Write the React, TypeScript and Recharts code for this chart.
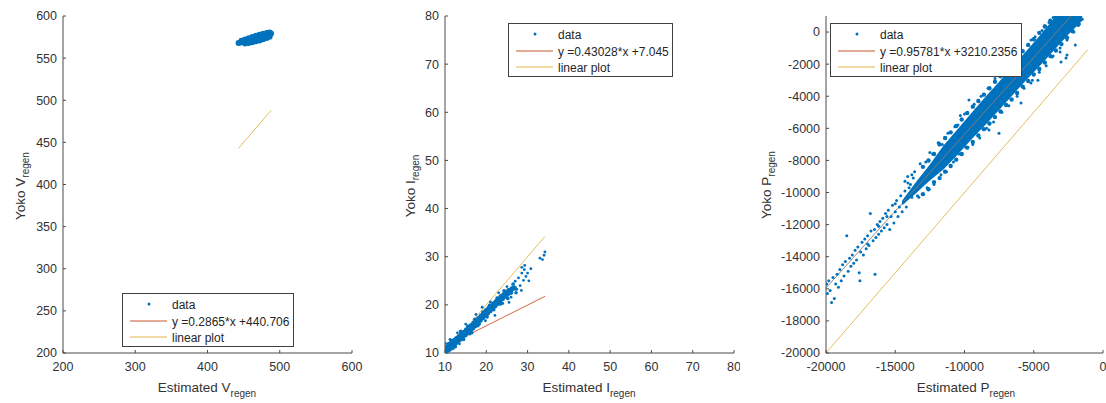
import React from 'react';
import { ComposedChart, Scatter, Line, Area, XAxis, YAxis } from 'recharts';

const FONT = 'Arial, "Liberation Sans", Helvetica, sans-serif';
const BLUE = '#0072BD';
const FIT = '#C9572C';
const LIN = '#E3B54A';
const INK = '#333';
const AXIS = '#4a4a4a';

// ---- V_regen panel ----
const vXTicks = [200, 300, 400, 500, 600];
const vYTicks = [200, 250, 300, 350, 400, 450, 500, 550, 600];
const vCloud: [number, number][] = [
  [443, 568.0], [446, 568.6], [449, 569.5], [452, 570.3], [455, 571.0], [458, 571.8],
  [461, 572.6], [464, 573.4], [467, 574.2], [470, 575.0], [473, 575.8], [476, 576.6],
  [479, 577.3], [482, 578.0], [485, 578.6], [488, 579.2],
  [447, 570.5], [452, 572.0], [457, 573.6], [462, 575.0], [467, 576.6], [472, 577.8],
  [477, 578.8], [482, 579.8], [486, 580.4],
  [452, 567.4], [457, 568.1], [462, 568.9], [467, 569.9], [472, 571.0], [477, 572.4],
  [482, 574.0], [486, 575.5],
];
const vFit: [number, number][] = [[442, 567.3], [490, 581.1]];
const vLinear: [number, number][] = [[443, 443], [488, 488]];

// ---- I_regen panel ----
const iTicks = [10, 20, 30, 40, 50, 60, 70, 80];
const iCore: [number, number][] = [
  [10.2, 10.4], [10.5, 11.2], [10.8, 10.6], [11.0, 11.8], [11.3, 11.0], [11.6, 12.0],
  [11.9, 11.5], [12.2, 12.6], [12.5, 12.0], [12.8, 13.0], [13.1, 12.5], [13.4, 13.4],
  [13.7, 12.9], [14.0, 13.9], [14.3, 13.4], [14.6, 14.3], [14.9, 13.8], [15.2, 14.8],
  [15.5, 14.3], [15.8, 15.2], [16.1, 14.7], [16.4, 15.7], [16.7, 15.2], [17.0, 16.2],
  [17.3, 15.7], [17.6, 16.7], [17.9, 16.2], [18.2, 17.2], [18.5, 16.8], [18.8, 17.7],
  [19.1, 17.3], [19.4, 18.3], [19.7, 17.8], [20.0, 18.8], [20.3, 18.3], [20.6, 19.3],
  [20.9, 18.8], [21.2, 19.8], [21.5, 19.3], [21.8, 20.2], [22.1, 19.8], [22.4, 20.7],
  [22.7, 20.3], [23.0, 21.2], [23.3, 20.8], [23.6, 21.7], [23.9, 21.3], [24.2, 22.1],
  [24.5, 21.8], [24.8, 22.6], [25.1, 22.2], [25.5, 23.0], [25.9, 22.6], [26.3, 23.4],
  [26.8, 23.5],
];
const iFringe: [number, number][] = [
  [11.5, 12.6], [12.5, 11.3], [13.8, 14.5], [14.5, 12.8], [15.5, 15.6], [16.5, 14.2],
  [17.2, 17.0], [18.3, 16.0], [19.2, 18.5], [20.2, 17.5], [20.8, 19.9], [21.8, 19.0],
  [22.6, 21.4], [23.5, 20.2], [24.3, 22.9], [25.2, 21.3], [26.5, 24.3], [27.2, 22.5],
];
const iSpread: [number, number][] = [
  [10.1, 12.0], [10.4, 9.9], [11.2, 12.8], [12.0, 10.9], [13.0, 14.2], [13.5, 11.9],
  [15.0, 16.0], [16.0, 13.9], [17.5, 18.0], [18.0, 15.6], [19.0, 19.5], [19.8, 16.7],
  [21.0, 20.6], [22.1, 17.8], [23.0, 22.5], [24.0, 20.3], [25.0, 23.8], [26.0, 21.6],
  [27.0, 24.9], [27.4, 23.2], [27.8, 25.6], [28.2, 24.0], [28.6, 26.6], [29.0, 25.1],
  [28.6, 27.8], [29.2, 27.3], [29.6, 25.9], [30.0, 26.6], [30.3, 25.0], [29.3, 28.2],
  [28.5, 23.0], [25.5, 20.5], [33.0, 29.7], [33.6, 29.4], [34.0, 30.3], [34.2, 31.0],
  [30.8, 27.5],
];
const iFit: [number, number][] = [[10, 11.35], [34.3, 21.8]];
const iLinear: [number, number][] = [[10, 10], [34.2, 34.2]];

// ---- P_regen panel ----
const pXTicks = [-20000, -15000, -10000, -5000, 0];
const pYTicks = [-20000, -18000, -16000, -14000, -12000, -10000, -8000, -6000, -4000, -2000, 0];
// dense core of the cloud: [x, low, high]
const pBand: [number, number, number][] = [
  [-14500, -10800, -10500], [-13500, -10050, -9350], [-12500, -9250, -8250],
  [-11500, -8550, -7050], [-10500, -7650, -6050], [-9500, -6700, -5050],
  [-8500, -5800, -4050], [-7500, -4850, -3100], [-6500, -3900, -2100],
  [-5500, -2950, -1150], [-4500, -2050, -150], [-3500, -1100, 900],
  [-2500, -150, 1900], [-1500, 700, 2700],
];
// points on the fuzzy edges of the core
const pFuzz: [number, number][] = [
  [-13000, -8400], [-13000, -10100], [-12600, -8000], [-12600, -9800], [-12200, -7600],
  [-12200, -9350], [-11800, -7000], [-11800, -9100], [-11400, -6600], [-11400, -8700],
  [-11000, -6250], [-11000, -8350], [-10600, -5850], [-10600, -7950], [-10200, -5450],
  [-10200, -7600], [-9800, -5050], [-9800, -7200], [-9400, -4650], [-9400, -6850],
  [-9000, -4300], [-9000, -6450], [-8600, -3900], [-8600, -6050], [-8200, -3500],
  [-8200, -5700], [-7800, -3100], [-7800, -5300], [-7400, -2750], [-7400, -4950],
  [-7000, -2350], [-7000, -4550], [-6600, -1950], [-6600, -4200], [-6200, -1600],
  [-6200, -3800], [-5800, -1200], [-5800, -3400], [-5400, -800], [-5400, -3050],
  [-5000, -450], [-5000, -2650], [-4600, -50], [-4600, -2300], [-4200, 350],
  [-4200, -1900], [-3800, 700], [-3800, -1500], [-3400, 950], [-3400, -1150],
  [-3000, -750], [-2600, -350], [-2200, 50], [-1800, 450],
];
const pSparse: [number, number][] = [
  [-19950, -15700], [-19900, -16300], [-19800, -15500], [-19700, -16100], [-19600, -16850],
  [-19500, -15300], [-19400, -16600], [-19300, -15700], [-19200, -15100], [-19100, -15900],
  [-19000, -14800], [-18900, -15500], [-18800, -14500], [-18700, -15200], [-18600, -14300],
  [-18500, -12700], [-18400, -14900], [-18300, -14100], [-18200, -14600], [-18100, -13900],
  [-18000, -14400], [-17900, -13600], [-17800, -14200], [-17700, -13400], [-17600, -15000],
  [-17550, -15500], [-17500, -13700], [-17400, -13100], [-17300, -13900], [-17200, -12900],
  [-17100, -13500], [-17000, -12700], [-16900, -13300], [-16800, -11300], [-16750, -12400],
  [-16600, -13000], [-16500, -12300], [-16460, -15100], [-16400, -12800], [-16300, -12000],
  [-16200, -12600], [-16100, -11800], [-16000, -12400], [-15900, -11600], [-15800, -12200],
  [-15700, -11300], [-15600, -12000], [-15500, -11100], [-15400, -12300], [-15300, -11500],
  [-15200, -10800], [-15100, -11900], [-15000, -11200], [-14900, -10500], [-14800, -11500],
  [-14700, -10900], [-14600, -10200], [-14500, -11200], [-14400, -10600], [-14300, -9900],
  [-14200, -10900], [-14100, -10300], [-14000, -9700], [-14300, -9300], [-14100, -9000],
  [-13900, -9500], [-13700, -9100], [-13600, -8700], [-13800, -10300], [-13400, -10200],
  [-15000, -10700], [-15600, -11500], [-16200, -12100], [-17000, -13200],
];
const pEdge: [number, number][] = [
  [-13800, -8900], [-13200, -8200], [-12800, -8100], [-12300, -7600], [-11900, -6900],
  [-11600, -7000], [-11200, -6300], [-10700, -5900], [-10300, -5200], [-9800, -5000],
  [-9300, -4500], [-8800, -4000], [-8300, -3500], [-7800, -2900], [-7400, -2700],
  [-6900, -2200], [-6400, -1800], [-5900, -1200], [-5400, -800], [-4900, -300],
  [-4400, 100], [-3900, 600], [-3600, 900], [-12500, -7500], [-10000, -5100],
  [-7000, -2400], [-5200, -500], [-4200, 400],
  [-13300, -10300], [-12700, -9700], [-12200, -9500], [-11700, -8900], [-11300, -8700],
  [-10800, -8100], [-10400, -7600], [-9900, -7200], [-9400, -7000], [-8900, -6600],
  [-8400, -6000], [-7900, -5600], [-7300, -5000], [-6800, -4600], [-6200, -4000],
  [-5700, -3500], [-5100, -3000], [-4600, -2500], [-4100, -2100], [-3600, -1500],
  [-3100, -1000], [-2600, -500], [-2100, 0], [-1700, 500], [-1500, 800], [-2000, -800],
  [-8230, -6110], [-7510, -6300], [-5920, -4420], [-5200, -3180], [-3030, -1870],
  [-2670, -1620], [-3680, -1560], [-3100, -1250], [-2600, -1430], [-4700, -3000],
  [-9680, -4240], [-10470, -5800], [-11840, -6920], [-14080, -9400],
];
const pFit: [number, number][] = [[-20000, -15946], [-1300, 1965]];
const pLinear: [number, number][] = [[-20000, -20000], [-1100, -1100]];

const pts = (a: [number, number][]) => a.map(([x, y]) => ({ x, y }));
const dot = (r: number) => (p: any) => <circle cx={p.cx} cy={p.cy} r={r} fill={BLUE} />;

const tickStyle = { fill: INK, fontSize: 12.5, fontFamily: FONT };

interface PanelProps {
  left: number;
  marginLeft: number;
  marginRight: number;
  xDomain: [number, number];
  yDomain: [number, number];
  xTicks: number[];
  yTicks: number[];
  children: React.ReactNode;
}

function Panel({ left, marginLeft, marginRight, xDomain, yDomain, xTicks, yTicks, children }: PanelProps) {
  return (
    <div style={{ position: 'absolute', left, top: 0 }}>
      <ComposedChart
        width={370}
        height={403}
        margin={{ top: 16, right: marginRight, bottom: 20, left: marginLeft }}
      >
        <XAxis
          type="number"
          dataKey="x"
          domain={xDomain}
          ticks={xTicks}
          interval={0}
          allowDataOverflow
          height={30}
          tick={tickStyle}
          tickSize={-3}
          tickMargin={12}
          tickLine={{ stroke: AXIS }}
          axisLine={{ stroke: AXIS }}
        />
        <YAxis
          type="number"
          dataKey="y"
          domain={yDomain}
          ticks={yTicks}
          interval={0}
          allowDataOverflow
          width={50}
          tick={tickStyle}
          tickSize={-3}
          tickMargin={9}
          tickLine={{ stroke: AXIS }}
          axisLine={{ stroke: AXIS }}
        />
        {children}
      </ComposedChart>
    </div>
  );
}

function Title({ x, y, main, sub }: { x: number; y: number; main: string; sub: string }) {
  return (
    <text x={x} y={y} textAnchor="middle" fontSize={13.5} fill={INK} fontFamily={FONT}>
      {main}
      <tspan dy={5} fontSize={10}>{sub}</tspan>
    </text>
  );
}

function YTitle({ x, y, main, sub }: { x: number; y: number; main: string; sub: string }) {
  return (
    <text
      transform={`translate(${x},${y}) rotate(-90)`}
      textAnchor="middle"
      fontSize={13.5}
      fill={INK}
      fontFamily={FONT}
    >
      {main}
      <tspan dy={4} fontSize={10}>{sub}</tspan>
    </text>
  );
}

function LegendBox({ x, y, w, fitLabel }: { x: number; y: number; w: number; fitLabel: string }) {
  const rows = [y + 11, y + 28, y + 44];
  return (
    <g fontFamily={FONT} fontSize={12} fill="#262626">
      <rect x={x + 0.5} y={y + 0.5} width={w} height={53} fill="#fff" stroke="#404040" strokeWidth={1} />
      <circle cx={x + 27} cy={rows[0]} r={1.5} fill={BLUE} />
      <line x1={x + 8} x2={x + 45} y1={rows[1]} y2={rows[1]} stroke={FIT} strokeWidth={1} />
      <line x1={x + 8} x2={x + 45} y1={rows[2]} y2={rows[2]} stroke={LIN} strokeWidth={1} />
      <text x={x + 50} y={rows[0] + 4.5}>data</text>
      <text x={x + 50} y={rows[1] + 4.5}>{fitLabel}</text>
      <text x={x + 50} y={rows[2] + 4.5}>linear plot</text>
    </g>
  );
}

export default function App() {
  const bandData = pBand.map(([x, lo, hi]) => ({ x, r: [lo, hi] }));
  return (
    <div
      style={{
        position: 'absolute',
        left: 0,
        top: 0,
        width: 1106,
        height: 403,
        background: '#fff',
        overflow: 'hidden',
      }}
    >
      <Panel left={0} marginLeft={13} marginRight={18} xDomain={[200, 600]} yDomain={[200, 600]} xTicks={vXTicks} yTicks={vYTicks}>
        <Scatter data={pts(vCloud)} dataKey="y" shape={dot(3)} isAnimationActive={false} />
        <Line data={pts(vFit)} dataKey="y" stroke={FIT} strokeWidth={0.8} dot={false} isAnimationActive={false} />
        <Line data={pts(vLinear)} dataKey="y" stroke={LIN} strokeWidth={0.9} dot={false} isAnimationActive={false} />
      </Panel>

      <Panel left={370} marginLeft={25} marginRight={6} xDomain={[10, 80]} yDomain={[10, 80]} xTicks={iTicks} yTicks={iTicks}>
        <Scatter data={pts(iCore)} dataKey="y" shape={dot(2.6)} isAnimationActive={false} />
        <Scatter data={pts(iFringe)} dataKey="y" shape={dot(1.8)} isAnimationActive={false} />
        <Scatter data={pts(iSpread)} dataKey="y" shape={dot(1.4)} isAnimationActive={false} />
        <Line data={pts(iFit)} dataKey="y" stroke={FIT} strokeWidth={0.9} dot={false} isAnimationActive={false} />
        <Line data={pts(iLinear)} dataKey="y" stroke={LIN} strokeWidth={0.9} dot={false} isAnimationActive={false} />
      </Panel>

      <Panel left={736} marginLeft={40} marginRight={3} xDomain={[-20000, 0]} yDomain={[-20000, 1000]} xTicks={pXTicks} yTicks={pYTicks}>
        <Area data={bandData} dataKey="r" type="linear" fill={BLUE} fillOpacity={1} stroke="none" isAnimationActive={false} />
        <Scatter data={pts(pFuzz)} dataKey="y" shape={dot(2.2)} isAnimationActive={false} />
        <Scatter data={pts(pSparse)} dataKey="y" shape={dot(1.5)} isAnimationActive={false} />
        <Scatter data={pts(pEdge)} dataKey="y" shape={dot(1.5)} isAnimationActive={false} />
        <Line data={pts(pFit)} dataKey="y" stroke="#8a7a78" strokeWidth={0.9} dot={false} isAnimationActive={false} />
        <Line data={pts(pLinear)} dataKey="y" stroke={LIN} strokeWidth={0.9} dot={false} isAnimationActive={false} />
      </Panel>

      <svg
        width={1106}
        height={403}
        style={{ position: 'absolute', left: 0, top: 0, pointerEvents: 'none' }}
      >
        <Title x={207} y={392} main="Estimated V" sub="regen" />
        <YTitle x={25} y={186} main="Yoko V" sub="regen" />
        <Title x={589} y={392} main="Estimated I" sub="regen" />
        <YTitle x={415} y={186} main="Yoko I" sub="regen" />
        <Title x={966} y={392} main="Estimated P" sub="regen" />
        <YTitle x={771} y={185} main="Yoko P" sub="regen" />

        <LegendBox x={122} y={293} w={171} fitLabel="y =0.2865*x +440.706" />
        <LegendBox x={508} y={23} w={164} fitLabel="y =0.43028*x +7.045" />
        <LegendBox x={830} y={23} w={191} fitLabel="y =0.95781*x +3210.2356" />
      </svg>
    </div>
  );
}
